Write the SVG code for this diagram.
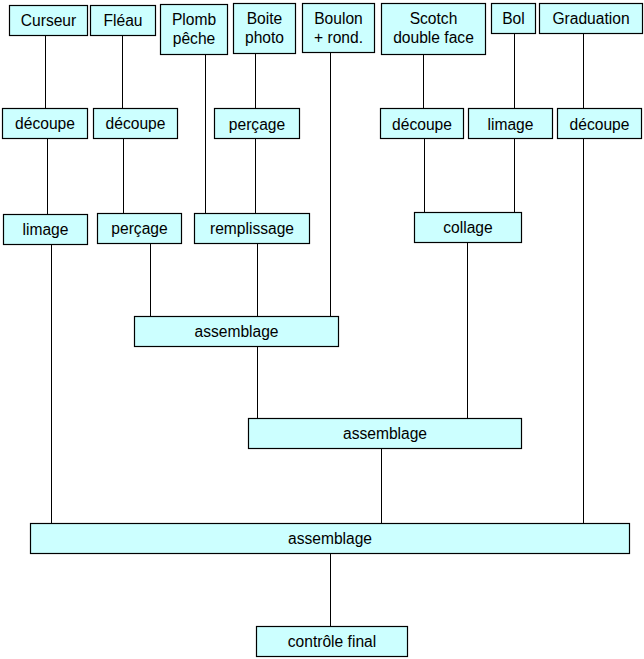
<svg xmlns="http://www.w3.org/2000/svg" width="644" height="659" viewBox="0 0 644 659">
<style>
.n rect{fill:#ccffff;stroke:#000;stroke-width:1.2}
.n text{font-family:"Liberation Sans",Arial,sans-serif;font-size:15.6px;fill:#000;text-anchor:middle}
#edges line{stroke:#000;stroke-width:1}
</style>
<rect width="644" height="659" fill="#fff"/>
<g id="edges">
<line x1="45.5" y1="35" x2="45.5" y2="108"/>
<line x1="47.5" y1="138" x2="47.5" y2="214"/>
<line x1="51.5" y1="244" x2="51.5" y2="523"/>
<line x1="122.5" y1="35" x2="122.5" y2="108"/>
<line x1="123.5" y1="138" x2="123.5" y2="213"/>
<line x1="150.5" y1="243" x2="150.5" y2="316"/>
<line x1="205.5" y1="54" x2="205.5" y2="213"/>
<line x1="255.5" y1="53" x2="255.5" y2="108"/>
<line x1="255.5" y1="139" x2="255.5" y2="213"/>
<line x1="257.5" y1="243" x2="257.5" y2="316"/>
<line x1="330.5" y1="52" x2="330.5" y2="316"/>
<line x1="257.5" y1="346" x2="257.5" y2="418"/>
<line x1="423.5" y1="54" x2="423.5" y2="108"/>
<line x1="424.5" y1="139" x2="424.5" y2="212"/>
<line x1="514.5" y1="33" x2="514.5" y2="108"/>
<line x1="514.5" y1="139" x2="514.5" y2="212"/>
<line x1="467.5" y1="242" x2="467.5" y2="418"/>
<line x1="583.5" y1="33" x2="583.5" y2="108"/>
<line x1="583.5" y1="139" x2="583.5" y2="523"/>
<line x1="381.5" y1="449" x2="381.5" y2="523"/>
<line x1="330.5" y1="553" x2="330.5" y2="626"/>
</g>
<g id="curseur" class="n"><rect x="9.5" y="5.5" width="78" height="30"/><text x="48.5" y="26">Curseur</text></g>
<g id="fleau" class="n"><rect x="90.5" y="5.5" width="65" height="30"/><text x="123" y="26">Fléau</text></g>
<g id="plomb" class="n"><rect x="160.5" y="4.5" width="67" height="50"/><text x="194" y="25">Plomb</text><text x="194" y="43.5">pêche</text></g>
<g id="boite" class="n"><rect x="233.5" y="3.5" width="62" height="50"/><text x="264.5" y="23.5">Boite</text><text x="264.5" y="42.5">photo</text></g>
<g id="boulon" class="n"><rect x="302.5" y="3.5" width="72" height="49"/><text x="338.5" y="23.5">Boulon</text><text x="338.5" y="42.5">+ rond.</text></g>
<g id="scotch" class="n"><rect x="381.5" y="3.5" width="104" height="51"/><text x="433.5" y="23.5">Scotch</text><text x="433.5" y="43">double face</text></g>
<g id="bol" class="n"><rect x="491.5" y="3.5" width="44" height="30"/><text x="513.5" y="24">Bol</text></g>
<g id="graduation" class="n"><rect x="539.5" y="3.5" width="103" height="30"/><text x="591" y="24">Graduation</text></g>
<g id="decoupe1" class="n"><rect x="2.5" y="108.5" width="85" height="30"/><text x="45" y="129">découpe</text></g>
<g id="decoupe2" class="n"><rect x="93.5" y="108.5" width="84" height="30"/><text x="135.5" y="129">découpe</text></g>
<g id="percage1" class="n"><rect x="214.5" y="108.5" width="85" height="30"/><text x="257" y="129.5">perçage</text></g>
<g id="decoupe3" class="n"><rect x="380.5" y="108.5" width="83" height="30"/><text x="422" y="129.5">découpe</text></g>
<g id="limage2" class="n"><rect x="468.5" y="108.5" width="84" height="30"/><text x="510.5" y="129.5">limage</text></g>
<g id="decoupe4" class="n"><rect x="557.5" y="108.5" width="84" height="30"/><text x="599.5" y="129.5">découpe</text></g>
<g id="limage1" class="n"><rect x="3.5" y="214.5" width="84" height="30"/><text x="45.5" y="235">limage</text></g>
<g id="percage2" class="n"><rect x="97.5" y="213.5" width="84" height="30"/><text x="139.5" y="234">perçage</text></g>
<g id="remplissage" class="n"><rect x="194.5" y="213.5" width="115" height="30"/><text x="252" y="234">remplissage</text></g>
<g id="collage" class="n"><rect x="414.5" y="212.5" width="107" height="30"/><text x="468" y="233">collage</text></g>
<g id="assemblage1" class="n"><rect x="134.5" y="316.5" width="204" height="30"/><text x="236.5" y="337">assemblage</text></g>
<g id="assemblage2" class="n"><rect x="248.5" y="418.5" width="273" height="30"/><text x="385" y="439">assemblage</text></g>
<g id="assemblage3" class="n"><rect x="30.5" y="523.5" width="599" height="30"/><text x="330" y="544">assemblage</text></g>
<g id="controle" class="n"><rect x="256.5" y="626.5" width="151" height="30"/><text x="332" y="647">contrôle final</text></g>
</svg>
